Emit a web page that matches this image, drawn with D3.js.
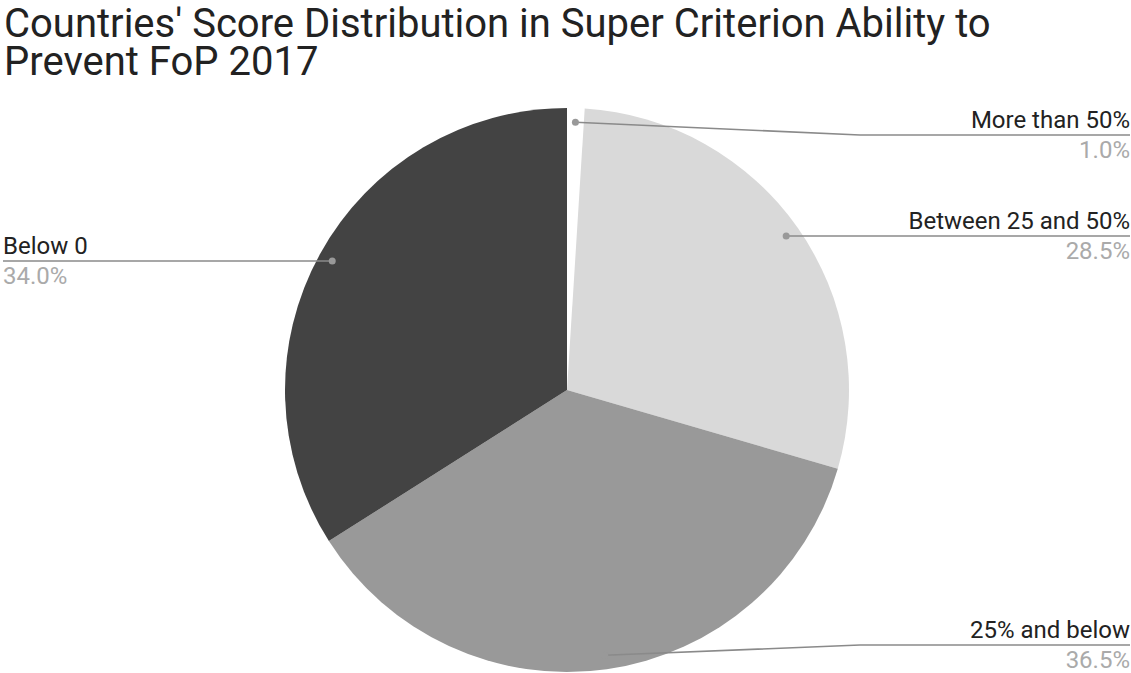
<!DOCTYPE html>
<html>
<head>
<meta charset="utf-8">
<script src="https://cdn.jsdelivr.net/npm/d3@7"></script>
<style>
  body { margin: 0; background: #fff; }
  text { font-family: Roboto, "Noto Sans", sans-serif; }
</style>
</head>
<body>
<div id="chart"></div>
<script>
var categories = ["More than 50%", "Between 25 and 50%", "25% and below", "Below 0"];
var shares = [1.0, 28.5, 36.5, 34.0];
var colors = ["#ffffff", "#d9d9d9", "#999999", "#434343"];
var titleLines = ["Countries' Score Distribution in Super Criterion Ability to", "Prevent FoP 2017"];

var width = 1131, height = 673;
var cx = 567, cy = 390, radius = 282;

var svg = d3.select("#chart").append("svg")
    .attr("width", width)
    .attr("height", height);

// title
svg.append("g")
    .selectAll("text")
    .data(titleLines)
    .join("text")
    .attr("x", 4)
    .attr("y", function(d, i) { return 37 + i * 38; })
    .attr("fill", "#222")
    .style("font-size", "40px")
    .text(function(d) { return d; });

var data = categories.map(function(c, i) {
    return {name: c, value: shares[i], color: colors[i]};
});

var pie = d3.pie().sort(null).value(function(d) { return d.value; });
var arc = d3.arc().innerRadius(0).outerRadius(radius);
var arcs = pie(data);

var g = svg.append("g").attr("transform", "translate(" + cx + "," + cy + ")");

g.selectAll("path")
    .data(arcs)
    .join("path")
    .attr("d", arc)
    .attr("fill", function(d) { return d.data.color; });

// labels with leader lines
var labelTop = 135 - cy, labelBottom = height - 28 - cy;
var dotR = radius * 0.95;

g.selectAll(".label")
    .data(arcs)
    .join("g")
    .attr("class", "label")
    .each(function(d) {
        var a = (d.startAngle + d.endAngle) / 2;
        var px = dotR * Math.sin(a), py = -dotR * Math.cos(a);
        var right = px > 0;
        var ly = Math.max(labelTop, Math.min(labelBottom, py));
        var ex = right ? radius + 11 : -radius - 10;
        var endX = right ? width - 1 - cx : 3 - cx;
        var sel = d3.select(this);
        sel.append("path")
            .attr("d", "M" + px + "," + py + "L" + ex + "," + ly + "L" + endX + "," + ly)
            .attr("fill", "none")
            .attr("stroke", "#8a8a8a")
            .attr("stroke-width", 1.6);
        sel.append("circle")
            .attr("cx", px).attr("cy", py).attr("r", 3.5)
            .attr("fill", "#999");
        sel.append("text")
            .attr("x", endX).attr("y", ly - 7)
            .attr("text-anchor", right ? "end" : "start")
            .attr("fill", "#222")
            .style("font-size", "24px")
            .text(d.data.name);
        sel.append("text")
            .attr("x", endX).attr("y", ly + 23)
            .attr("text-anchor", right ? "end" : "start")
            .attr("fill", "#aaa")
            .style("font-size", "24px")
            .text(d3.format(".1f")(d.data.value) + "%");
    });
</script>
</body>
</html>
